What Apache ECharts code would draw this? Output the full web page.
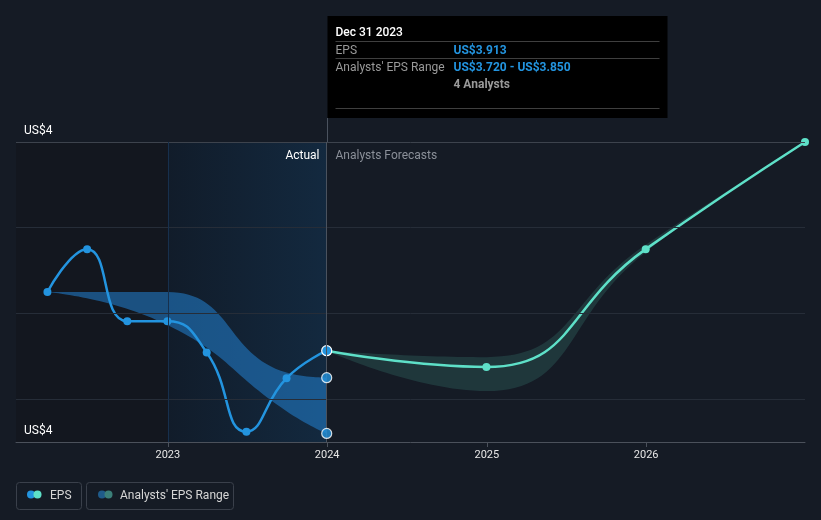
<!DOCTYPE html>
<html><head><meta charset="utf-8">
<script src="https://cdn.jsdelivr.net/npm/echarts@6/dist/echarts.min.js"></script>
<style>html,body{margin:0;padding:0;background:#151b25;}#c{width:821px;height:520px;}</style>
</head><body><div id="c"></div>
<script>
// ---- data ----
const actualDates = ['2022-03-31','2022-06-30','2022-09-30','2022-12-31','2023-03-31','2023-06-30','2023-09-30','2023-12-31'];
const actualEps   = [4.050, 4.150, 3.982, 3.982, 3.909, 3.724, 3.849, 3.913];
const pastRangeDates = ['2022-03-31','2022-12-31','2023-09-30','2023-12-31'];
const pastRangeLow   = [4.050, 3.973, 3.772, 3.720];
const pastRangeHigh  = [4.050, 4.050, 3.862, 3.850];
const forecastDates = ['2023-12-31','2024-12-31','2025-12-31','2026-12-31'];
const forecastEps   = [3.913, 3.875, 4.150, 4.400];
const forecastLow   = [3.913, 3.819, 4.143, 4.400];
const forecastHigh  = [3.913, 3.898, 4.160, 4.400];
const gridValues = [3.8, 4.0, 4.2, 4.4];
const yMin = 3.7, yMax = 4.4;
const yLabels = [{value: 4.4, text: 'US$4'}, {value: 3.7, text: 'US$4'}];
const xMin = '2022-01-18', xMax = '2026-12-31';
const splitDate = '2023-12-31';
const shadeStart = '2023-01-01';
const tipTitle = 'Dec 31 2023';
const tipEps = 'US$3.913';
const tipRange = 'US$3.720 - US$3.850';
const tipAnalysts = '4 Analysts';

const FONT = 'Roboto, "Noto Sans", sans-serif';
const BLUE = '#2394df', TEAL = '#5ee0c8';

const chart = echarts.init(document.getElementById('c'), null, {renderer:'canvas'});
const pair = (d, v) => d.map((x, i) => [x, v[i]]);
const diff = (hi, lo) => hi.map((h, i) => +(h - lo[i]).toFixed(4));

const option = {
  backgroundColor: '#151b25',
  animation: false,
  textStyle: {fontFamily: FONT},
  grid: {left: 16, right: 16, top: 142, bottom: 78},
  xAxis: {
    type: 'time', min: xMin, max: xMax,
    minInterval: 365*24*3600*1000, maxInterval: 366*24*3600*1000,
    axisLine: {lineStyle: {color: '#4b515b', width: 1}},
    axisTick: {show: true, length: 5, lineStyle: {color: '#4b515b'}},
    axisLabel: {color: '#e6e6e6', fontSize: 11, margin: 8, formatter: '{yyyy}', showMinLabel: false, showMaxLabel: false, fontFamily: FONT},
    splitLine: {show: false}
  },
  yAxis: {
    type: 'value', min: yMin, max: yMax,
    axisLine: {show: false}, axisTick: {show: false}, splitLine: {show: false}, axisLabel: {show: false}
  },
  series: [
    { type: 'line', data: [], z: 0, silent: true,
      markArea: {silent: true, data: [
        [{xAxis: xMin, itemStyle: {color: '#13171f'}}, {xAxis: shadeStart}],
        [{xAxis: shadeStart, itemStyle: {color: {type:'linear', x:0, y:0, x2:1, y2:0, colorStops:[{offset:0, color:'#111c2a'},{offset:1, color:'#13293f'}]}}}, {xAxis: splitDate}]
      ]},
      markLine: {silent: true, symbol: ['none','none'], label: {show: false},
        data: gridValues.map((v, i) => ({yAxis: v, lineStyle: {color: i === gridValues.length-1 ? '#3d434d' : '#262d38', width: 1, type: 'solid'}}))
          .concat([
            {xAxis: shadeStart, lineStyle: {color: '#17304d', width: 1, type: 'solid'}},
            {xAxis: splitDate, lineStyle: {color: '#4a525e', width: 1, type: 'solid'}}
          ])
      }
    },
    { name: 'pastLow', type: 'line', stack: 'past', smooth: true, symbol: 'none', z: 2,
      data: pair(pastRangeDates, pastRangeLow), lineStyle: {opacity: 0} },
    { name: "Analysts' EPS Range", type: 'line', stack: 'past', smooth: true, symbol: 'none', z: 2,
      data: pair(pastRangeDates, diff(pastRangeHigh, pastRangeLow)), lineStyle: {opacity: 0},
      areaStyle: {color: 'rgba(34,130,210,0.55)', opacity: 1} },
    { name: 'fcLow', type: 'line', stack: 'fc', smooth: true, symbol: 'none', z: 2,
      data: pair(forecastDates, forecastLow), lineStyle: {opacity: 0} },
    { name: 'fcBand', type: 'line', stack: 'fc', smooth: true, symbol: 'none', z: 2,
      data: pair(forecastDates, diff(forecastHigh, forecastLow)), lineStyle: {opacity: 0},
      areaStyle: {color: 'rgba(94,224,200,0.14)', opacity: 1} },
    { name: 'EPS forecast', type: 'line', smooth: true, z: 3,
      data: forecastDates.map((d, i) => i === 0 ? {value: [d, forecastEps[i]], symbol: 'none'} : [d, forecastEps[i]]),
      symbol: 'circle', symbolSize: 8, showAllSymbol: true,
      lineStyle: {color: TEAL, width: 2.5}, itemStyle: {color: TEAL} },
    { name: 'EPS', type: 'line', smooth: true, z: 4,
      data: actualDates.map((d, i) => i === actualDates.length-1
        ? {value: [d, actualEps[i]], symbolSize: 10, itemStyle: {borderColor: '#ffffff', borderWidth: 1.2}}
        : [d, actualEps[i]]),
      symbol: 'circle', symbolSize: 8, showAllSymbol: true,
      lineStyle: {color: BLUE, width: 2.5}, itemStyle: {color: BLUE} },
    { name: 'rangeEnds', type: 'scatter', z: 5, symbolSize: 10,
      data: [[splitDate, pastRangeHigh[pastRangeHigh.length-1]], [splitDate, pastRangeLow[pastRangeLow.length-1]]],
      itemStyle: {color: BLUE, borderColor: '#ffffff', borderWidth: 1.2} }
  ]
};
chart.setOption(option);

// annotations positioned from the axes
const p = chart.convertToPixel({xAxisIndex: 0, yAxisIndex: 0}, [splitDate, yMax]);
const sx = Math.round(p[0]) + 0.5, gy = p[1];
const tx = sx, tw = 340, ty = 16, th = 102;
const lbl = (x, y, text, color, opts) => Object.assign({type: 'text', x, y,
  style: Object.assign({text, fill: color, font: '12px ' + FONT, verticalAlign: 'middle', align: 'left'}, opts || {})});
const hline = (y) => ({type: 'line', shape: {x1: tx + 8, y1: y, x2: tx + tw - 8, y2: y}, style: {stroke: '#3f3f3f', lineWidth: 1}});
const yLabelGraphics = yLabels.map(l => {
  const py = chart.convertToPixel({yAxisIndex: 0}, l.value);
  return lbl(24, py - 11, l.text, '#ffffff');
});
const graphics = yLabelGraphics.concat([
  {type: 'line', shape: {x1: sx, y1: ty + th, x2: sx, y2: gy}, style: {stroke: '#4a525e', lineWidth: 1}},
  {type: 'rect', shape: {x: tx, y: ty, width: tw, height: th}, style: {fill: '#000000'}},
  lbl(tx + 8, 33, tipTitle, '#ffffff', {font: '500 12px ' + FONT}),
  hline(41.5),
  lbl(tx + 8, 51, 'EPS', '#9a9a9a'),
  lbl(tx + 126, 51, tipEps, BLUE, {font: 'bold 12px ' + FONT}),
  hline(58.5),
  lbl(tx + 8, 68, "Analysts' EPS Range", '#9a9a9a'),
  lbl(tx + 126, 68, tipRange, BLUE, {font: 'bold 12px ' + FONT}),
  lbl(tx + 126, 85, tipAnalysts, '#9a9a9a', {font: 'bold 12px ' + FONT}),
  hline(108.5),
  lbl(sx - 8, gy + 14, 'Actual', '#ffffff', {align: 'right'}),
  lbl(sx + 8, gy + 14, 'Analysts Forecasts', '#8b9099'),
  // legend
  {type: 'rect', shape: {x: 16.5, y: 482.5, width: 65, height: 27, r: 3}, style: {fill: 'none', stroke: '#3a404b', lineWidth: 1}},
  {type: 'circle', shape: {cx: 31, cy: 494.5, r: 4}, style: {fill: BLUE}},
  {type: 'circle', shape: {cx: 37.5, cy: 494.5, r: 4}, style: {fill: TEAL}},
  lbl(50, 496, 'EPS', '#d6d6d6'),
  {type: 'rect', shape: {x: 86.5, y: 482.5, width: 147, height: 27, r: 3}, style: {fill: 'none', stroke: '#3a404b', lineWidth: 1}},
  {type: 'circle', shape: {cx: 102, cy: 494.5, r: 4}, style: {fill: '#1f5b8a'}},
  {type: 'circle', shape: {cx: 108.5, cy: 494.5, r: 4}, style: {fill: '#3b7f79'}},
  lbl(120, 496, "Analysts' EPS Range", '#d6d6d6')
]);
chart.setOption({graphic: graphics.map(g => Object.assign({silent: true, z: 100}, g))});
</script></body></html>
